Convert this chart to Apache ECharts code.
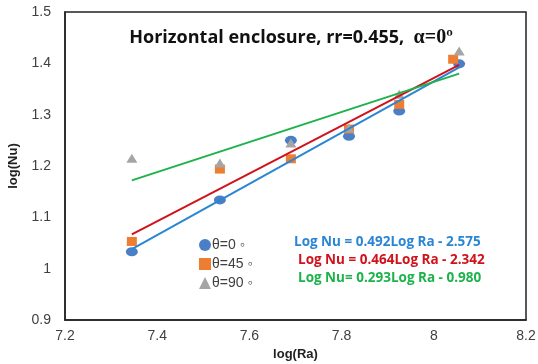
<!DOCTYPE html>
<html>
<head>
<meta charset="utf-8">
<script src="https://cdn.jsdelivr.net/npm/echarts@6/dist/echarts.min.js"></script>
<style>
  html, body { margin: 0; padding: 0; background: #fff; }
  #chart { width: 538px; height: 364px; }
</style>
</head>
<body>
<div id="chart"></div>
<script>
// measured points, log(Ra) vs log(Nu)
const theta0 = [[7.345, 1.033], [7.536, 1.134], [7.69, 1.25], [7.816, 1.258], [7.925, 1.307], [8.055, 1.399]];
const theta45 = [[7.345, 1.053], [7.536, 1.194], [7.69, 1.214], [7.816, 1.272], [7.925, 1.32], [8.042, 1.408]];
const theta90 = [[7.345, 1.215], [7.536, 1.206], [7.69, 1.245], [7.816, 1.274], [7.925, 1.34], [8.055, 1.424]];

// fitted line end points
const fit0 = [[7.345, 1.038], [8.055, 1.392]];
const fit45 = [[7.345, 1.067], [8.055, 1.397]];
const fit90 = [[7.345, 1.172], [8.055, 1.38]];

const legendNames = ['θ=0 ◦', 'θ=45 ◦', 'θ=90 ◦'];
const equations = [
  'Log Nu = 0.492Log Ra - 2.575',
  'Log Nu = 0.464Log Ra - 2.342',
  'Log Nu= 0.293Log Ra - 0.980'
];

const blue = '#4a7fc6', orange = '#ed7d31', gray = '#a5a5a5';
const lineBlue = '#2a86d4', lineRed = '#d0121b', lineGreen = '#1db24b';

const chart = echarts.init(document.getElementById('chart'));

const scatter = (name, data, symbol, color, size, z) => ({
  name,
  type: 'scatter',
  symbol,
  symbolSize: size,
  itemStyle: { color, opacity: 1 },
  data,
  z
});
const fit = (data, color) => ({
  type: 'line',
  data,
  symbol: 'none',
  lineStyle: { color, width: 2 },
  z: 5,
  silent: true
});

chart.setOption({
  animation: false,
  textStyle: { fontFamily: 'Liberation Sans, Arial, sans-serif' },
  grid: {
    left: 65, top: 12, right: 12, bottom: 44,
    outerBoundsMode: 'none',
    containLabel: false,
    show: true, borderColor: '#222', borderWidth: 1.5
  },
  title: {
    text: 'Horizontal enclosure, rr=0.455,  {a|α=0º}',
    left: 286, top: 23, textAlign: 'center',
    textStyle: {
      fontFamily: 'Open Sans, sans-serif',
      fontSize: 18, fontWeight: 'bold', color: '#111',
      rich: { a: { fontFamily: 'Liberation Serif, serif', fontSize: 20, fontWeight: 'bold', color: '#111' } }
    }
  },
  legend: {
    data: legendNames,
    orient: 'vertical',
    left: 194, top: 233,
    itemGap: 5, itemWidth: 12, itemHeight: 12,
    textStyle: { fontSize: 14, color: '#404040', padding: [0, 0, 0, -4] }
  },
  graphic: equations.map((t, i) => ({
    type: 'text',
    left: [294, 298, 298][i],
    top: 235 + i * 18,
    style: {
      text: t,
      fill: [lineBlue, lineRed, lineGreen][i],
      font: 'bold 13.5px "Open Sans", sans-serif'
    }
  })),
  xAxis: {
    type: 'value', min: 7.2, max: 8.2, interval: 0.2,
    name: 'log(Ra)', nameLocation: 'middle', nameGap: 27,
    nameTextStyle: { fontSize: 13, fontWeight: 'bold', color: '#222' },
    axisLine: { show: true, lineStyle: { color: '#222', width: 1.5 } },
    axisTick: { show: false },
    splitLine: { show: false },
    axisLabel: { fontSize: 14, color: '#404040', margin: 9 }
  },
  yAxis: {
    type: 'value', min: 0.9, max: 1.5, interval: 0.1,
    name: 'log(Nu)', nameLocation: 'middle', nameGap: 45,
    nameTextStyle: { fontSize: 13, fontWeight: 'bold', color: '#222' },
    axisLine: { show: true, lineStyle: { color: '#222', width: 1.5 } },
    axisTick: { show: false },
    splitLine: { show: false },
    axisLabel: { fontSize: 14, color: '#404040', margin: 14 }
  },
  series: [
    scatter(legendNames[0], theta0, 'circle', blue, [12, 9], 2),
    scatter(legendNames[1], theta45, 'rect', orange, [10, 9], 3),
    scatter(legendNames[2], theta90, 'triangle', gray, [11, 9], 4),
    fit(fit0, lineBlue),
    fit(fit45, lineRed),
    fit(fit90, lineGreen)
  ]
});
</script>
</body>
</html>
